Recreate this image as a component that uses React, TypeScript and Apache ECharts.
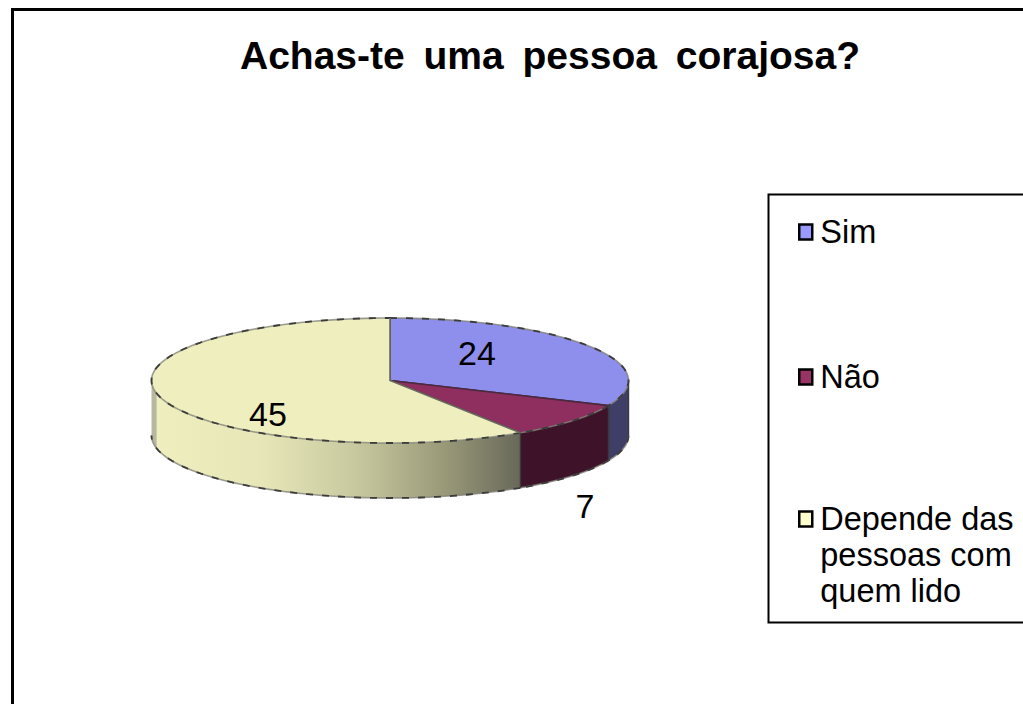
import React, { useEffect, useRef } from "react";
import * as echarts from "echarts";

const titleText = "Achas-te uma pessoa corajosa?";
const categories = ["Sim", "Não", "Depende das pessoas com quem lido"];
const values = [24, 7, 45];
const legendLines = [["Sim"], ["Não"], ["Depende das", "pessoas com", "quem lido"]];
const topColors = ["#8E8EEC", "#8E2F5F", "#EEEEBE"];
const legendColors = ["#9999FF", "#993366", "#FFFFCC"];
const wallColors = ["#3E3E66", "#3E1228", "#EEEEBE"];
const yellowWallStops: [number, string][] = [
  [0, "#B8B8A0"], [0.012, "#B8B8A0"], [0.016, "#EEEEBE"], [0.3, "#E6E6B8"],
  [0.55, "#C9C9A0"], [0.8, "#989878"], [1, "#68685A"],
];
const labelAnchors = [[477, 353], [585, 506], [268, 414]];
const legendCentres = [232, 377, 519];

const CX = 390, CY = 380.5, RX = 238.5, RY = 62.5, DEPTH = 55;
const FONT = "'Liberation Sans', Arial, sans-serif";
const total = values.reduce((a, b) => a + b, 0);
const pt = (deg: number, dy = 0) => {
  const r = (deg * Math.PI) / 180;
  return [CX + RX * Math.sin(r), CY - RY * Math.cos(r) + dy];
};
const arc = (a: number, b: number, dy = 0) => {
  const n = Math.max(2, Math.ceil(Math.abs(b - a) / 2));
  const out: number[][] = [];
  for (let i = 0; i <= n; i++) out.push(pt(a + ((b - a) * i) / n, dy));
  return out;
};

const under = { stroke: "rgba(125,125,115,0.75)", lineWidth: 1.6, fill: null };
const over = { stroke: "#3C3C3C", lineWidth: 1.8, lineDash: [7, 9], fill: null };
const edgeLines = (points: number[][]) => [
  { type: "polyline", shape: { points }, style: under },
  { type: "polyline", shape: { points }, style: over },
];

function renderSlice(idx: number) {
  return () => {
    const start = (values.slice(0, idx).reduce((a, b) => a + b, 0) / total) * 360;
    const end = start + (values[idx] / total) * 360;
    const children: any[] = [];
    const wa = Math.max(start, 90), wb = Math.min(end, 270);
    if (wb > wa) {
      const upper = arc(wa, wb);
      const lower = arc(wb, wa, DEPTH);
      // The yellow wall runs right to left as the angle grows; the stops read left to right.
      const fill = idx === 2
        ? { type: "linear", x: 0, y: 0, x2: 1, y2: 0,
            colorStops: yellowWallStops.map(([offset, color]) => ({ offset, color })) }
        : wallColors[idx];
      children.push({ type: "polygon", shape: { points: [...upper, ...lower] }, style: { fill } });
      children.push(...edgeLines(arc(wa, wb, DEPTH)));
      children.push({ type: "line", shape: { x1: pt(wa)[0], y1: pt(wa)[1], x2: pt(wa)[0], y2: pt(wa)[1] + DEPTH },
        style: { stroke: "#3A3A3A", lineWidth: 1.4 } });
    }
    children.push({ type: "polygon", shape: { points: [[CX, CY], ...arc(start, end)] }, style: { fill: topColors[idx] } });
    children.push(...edgeLines(arc(start, end)));
    children.push({ type: "polyline", shape: { points: [pt(end), [CX, CY], pt(start)] },
      style: { stroke: idx === 2 ? "#6A6A60" : "#4A2A40", lineWidth: 1.6, fill: null } });
    children.push({ type: "text", z2: 50, style: {
      text: String(values[idx]), x: labelAnchors[idx][0], y: labelAnchors[idx][1],
      align: "center", verticalAlign: "middle", fontSize: 34, fontFamily: FONT, fill: "#000" } });
    return { type: "group", children };
  };
}

export default function App() {
  const ref = useRef<HTMLDivElement>(null);
  useEffect(() => {
    const chart = echarts.init(ref.current!, null, { renderer: "svg" });
    chart.setOption({
      animation: false,
      backgroundColor: "#fff",
      title: {
        text: titleText, left: 545, top: 31, textAlign: "center",
        textStyle: { fontFamily: FONT, fontWeight: "bold", fontSize: 39, color: "#000" },
      },
      legend: categories.map((name, i) => {
        const lines = legendLines[i];
        const blanks = lines.length - 1;
        const count = lines.length + blanks;
        return {
          data: [{ name, itemStyle: { color: legendColors[i], borderColor: "#000", borderWidth: 2.5 } }],
          left: 798, top: legendCentres[i] - (count * 36) / 2, orient: "vertical", padding: 0,
          icon: "rect", itemWidth: 13, itemHeight: 15, itemGap: 0, selectedMode: false,
          formatter: () => [...Array(blanks).fill(""), ...lines].join("\n"),
          textStyle: { fontFamily: FONT, fontSize: 32.5, lineHeight: 36, color: "#000", padding: [0, 0, 0, 3] },
        };
      }),
      graphic: [
        { type: "rect", z: -1, shape: { x: 12.5, y: 9.5, width: 1100, height: 800 },
          style: { fill: "#fff", stroke: "#000", lineWidth: 3 } },
        { type: "rect", z: 0, shape: { x: 768.5, y: 194.5, width: 400, height: 428 },
          style: { fill: "#fff", stroke: "#000", lineWidth: 2 } },
      ],
      series: categories.map((name, i) => ({
        type: "custom", name, coordinateSystem: "none", data: [values[i]],
        itemStyle: { color: legendColors[i] }, silent: true, renderItem: renderSlice(i),
        z: i === 2 ? 3 : 2,
      })),
    });
    return () => chart.dispose();
  }, []);
  return (
    <>
      <style>{`text[style*="bold"]{word-spacing:8px}`}</style>
      <div ref={ref} style={{ position: "fixed", left: 0, top: 0, width: 1023, height: 704 }} />
    </>
  );
}
